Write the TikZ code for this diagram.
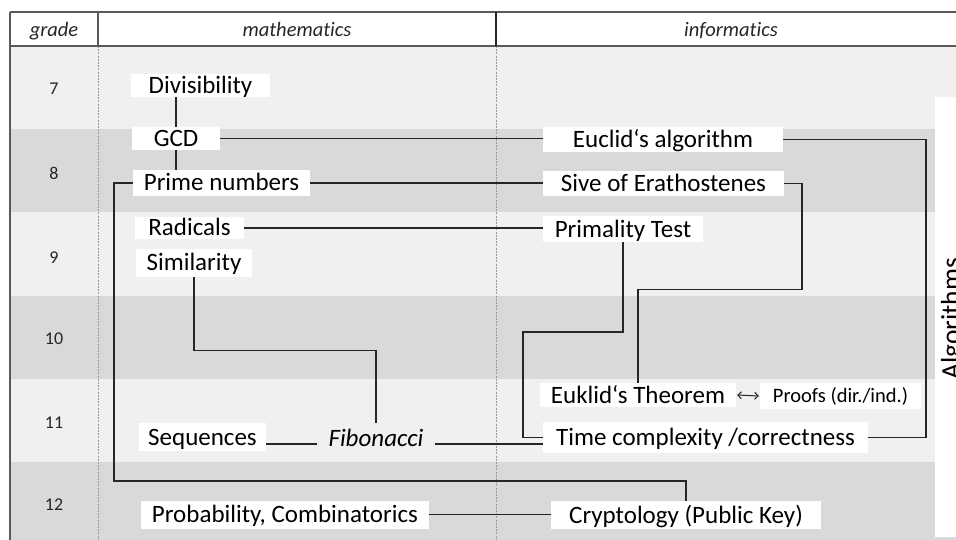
\documentclass[tikz,border=0pt]{standalone}
\usepackage{fontspec}
\setmainfont{Carlito}[Ligatures=NoCommon]
\usetikzlibrary{arrows.meta}
\definecolor{rowlight}{HTML}{F0F0F0}
\definecolor{rowdark}{HTML}{D9D9D9}
\definecolor{gridline}{HTML}{595959}
\definecolor{conn}{HTML}{262626}
\tikzset{
  box/.style={fill=white, inner sep=0pt, font=\fontsize{25}{30}\selectfont, text height=16pt, text depth=0pt},
  smallbox/.style={box, font=\fontsize{20.5}{24}\selectfont, text height=13pt},
  fibstyle/.style={inner sep=0pt, font=\fontsize{25}{30}\selectfont\itshape, text height=23pt, text depth=19pt, minimum width=118pt},
  link/.style={draw=conn, line width=1.1pt},
  hdr/.style={font=\fontsize{20.5}{24}\selectfont\itshape, inner sep=0pt, text=black!85},
  gradelbl/.style={font=\fontsize{18}{22}\selectfont, inner sep=0pt, text height=11.4pt, text depth=0pt, text=black!85},
  sepdash/.style={draw=black!40, line width=0.9pt, dash pattern=on 2pt off 1.2pt},
  frame/.style={draw=gridline, line width=1.1pt}
}
\begin{document}
\begin{tikzpicture}[x=1pt,y=-1pt]
\useasboundingbox (0,0) rectangle (956,540);
\clip (0,0) rectangle (956,540);
\fill[white] (0,0) rectangle (956,540);
% rows
\fill[rowlight] (10,46) rectangle (956,129.3);
\fill[rowdark] (10,129.3) rectangle (956,212);
\fill[rowlight] (10,212) rectangle (956,296);
\fill[rowdark] (10,296) rectangle (956,379);
\fill[rowlight] (10,379) rectangle (956,462);
\fill[rowdark] (10,462) rectangle (956,540);
% grid
\draw[sepdash] (98,46) -- (98,540);
\draw[sepdash] (496,46) -- (496,540);
\draw[frame] (10,12) -- (956,12);
\draw[frame, line width=1.6pt] (10,46) -- (956,46);
\draw[frame] (10,12) -- (10,540);
\draw[frame] (98,12) -- (98,46);
\draw[frame, draw=black!85] (496,12) -- (496,46);
% header
\node[hdr, anchor=base] (hg) at (54,36.5) {grade};
\node[hdr, anchor=base] (hm) at (297,36.5) {mathematics};
\node[hdr, anchor=base] (hi) at (731,36.5) {informatics};
% grades
\node[gradelbl] (g7) at (54,89) {7};
\node[gradelbl] (g8) at (54,173.5) {8};
\node[gradelbl] (g9) at (54,257.5) {9};
\node[gradelbl] (g10) at (54,338.5) {10};
\node[gradelbl] (g11) at (54,422.5) {11};
\node[gradelbl] (g12) at (54,505) {12};
% Algorithms panel
\fill[white] (935,97) rectangle (956,537);
\node[rotate=90, anchor=base, inner sep=0pt, font=\fontsize{27.5}{32}\selectfont] (alg) at (960,319) {Algorithms};
% nodes
\node[box, minimum width=139pt, minimum height=23pt] (div) at (200.5,85.5) {Divisibility};
\node[box, minimum width=88pt, minimum height=23pt] (gcd) at (176,138.5) {GCD};
\node[box, minimum width=177pt, minimum height=26pt] (prime) at (221.5,183) {Prime numbers};
\node[box, minimum width=109pt, minimum height=22pt] (rad) at (189.5,228) {Radicals};
\node[box, minimum width=116pt, minimum height=28pt] (sim) at (194,263) {Similarity};
\node[box, minimum width=127pt, minimum height=28pt] (seq) at (202.5,437) {Sequences};
\node[fibstyle] (fib) at (376,444) {Fibonacci};
\node[box, minimum width=288pt, minimum height=28pt] (prob) at (285,514.5) {Probability, Combinatorics};
\node[box, minimum width=240pt, minimum height=25pt] (euc) at (663,139.5) {Euclid‘s algorithm};
\node[box, minimum width=241pt, minimum height=25pt] (sive) at (663.5,183.5) {Sive of Erathostenes};
\node[box, minimum width=160pt, minimum height=26pt] (prim) at (623,229) {Primality Test};
\node[box, minimum width=196pt, minimum height=24pt] (eukt) at (638,395) {Euklid‘s Theorem};
\node[smallbox, minimum width=161pt, minimum height=26pt] (proofs) at (840.5,396) {Proofs (dir./ind.)};
\node[box, minimum width=325pt, minimum height=31pt] (time) at (705.5,437.5) {Time complexity /correctness};
\node[box, minimum width=270pt, minimum height=28pt] (crypt) at (686,515) {Cryptology (Public Key)};
% bend coordinates
\coordinate (rx) at (926,0);
\coordinate (pl) at (114,481);
\coordinate (sv) at (802,289.3);
\coordinate (pm) at (523,332);
\coordinate (sm) at (376,350.7);
% connectors
\draw[link] (div.south -| gcd.north) -- (gcd.north);
\draw[link] (gcd.south) -- (gcd.south |- prime.north);
\draw[link] (gcd.east) -- (gcd.east -| euc.west);
\draw[link] (euc.east) -- (euc.east -| rx) |- (time.east);
\draw[link] (prime.east) -- (prime.east -| sive.west);
\draw[link] (prime.west) -| (pl) -| (crypt.north);
\draw[link] (sive.east) -| (sv) -| (eukt.north);
\draw[link] (rad.east) -- (rad.east -| prim.west);
\draw[link] (prim.south) |- (pm) |- (time.west);
\draw[link] (sim.south) |- (sm) -- (fib.north);
\draw[link] (fib.west -| seq.east) -- (fib.west);
\draw[link] (fib.east) -- (fib.east -| time.west);
\draw[link] (prob.east) -- (prob.east -| crypt.west);
\draw[link, line width=1pt, {Straight Barb[length=3.5pt,width=7pt]}-{Straight Barb[length=3.5pt,width=7pt]}] ([xshift=1pt]eukt.east) -- ([xshift=-1pt]proofs.west);
\end{tikzpicture}
\end{document}
